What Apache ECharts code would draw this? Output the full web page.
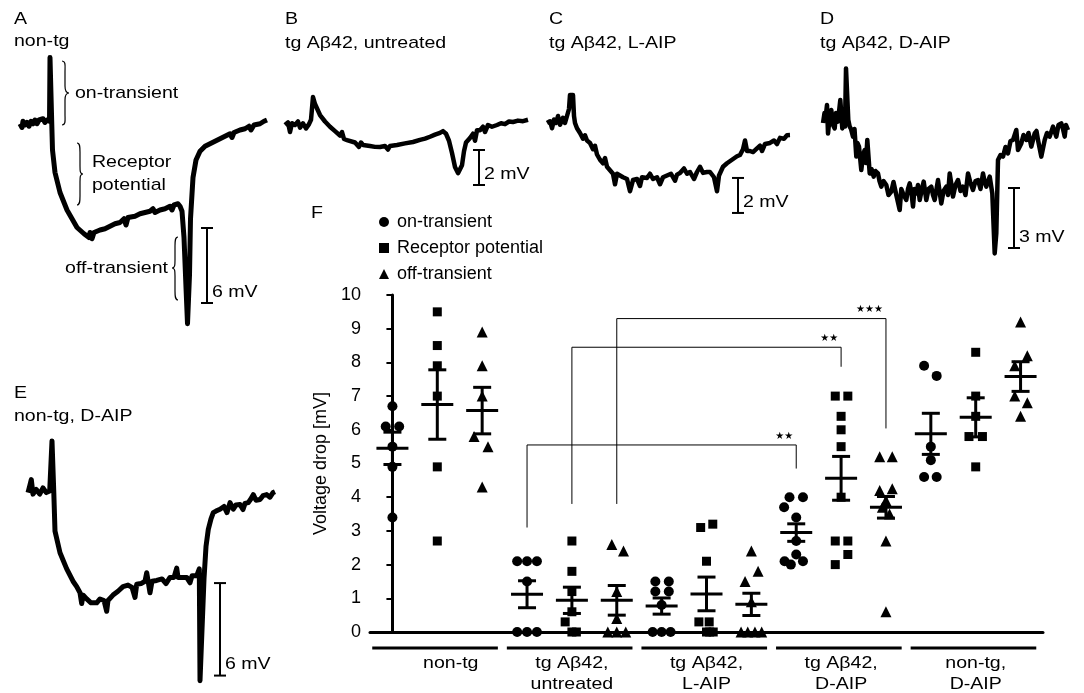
<!DOCTYPE html>
<html><head><meta charset="utf-8">
<script src="https://cdn.jsdelivr.net/npm/echarts@6/dist/echarts.min.js"></script>
<style>html,body{margin:0;padding:0;background:#fff}#c{width:1084px;height:693px}</style>
</head><body><div id="c"></div>
<script>
// ---------- DATA ----------
const groups = ['non-tg', 'tg Aβ42,\nuntreated', 'tg Aβ42,\nL-AIP', 'tg Aβ42,\nD-AIP', 'non-tg,\nD-AIP'];
const measures = ['on-transient', 'Receptor potential', 'off-transient'];
const yTicks = [0, 1, 2, 3, 4, 5, 6, 7, 8, 9, 10];

const onTransient = [
  [6.7, 6.1, 6.1, 5.5, 4.9, 3.4],
  [2.1, 2.1, 2.1, 1.5, 0, 0, 0],
  [1.5, 1.5, 1.2, 1.2, 0.8, 0, 0, 0],
  [4.0, 4.0, 3.7, 3.4, 2.7, 2.3, 2.1, 2.1, 2.0],
  [7.9, 7.6, 5.5, 5.1, 4.6, 4.6]
];
const onSpread = [
  [0, -0.15, 0.15, 0, 0, 0],
  [-0.22, 0, 0.22, 0, -0.22, 0, 0.22],
  [-0.14, 0.16, -0.14, 0.16, 0, -0.2, 0, 0.2],
  [-0.15, 0.15, -0.27, 0, 0, 0, -0.26, 0.15, -0.12],
  [-0.15, 0.13, 0, 0, -0.15, 0.13]
];
const receptor = [
  [9.5, 8.5, 7.9, 7.0, 4.9, 2.7],
  [2.7, 1.8, 1.2, 0.6, 0.3, 0, 0],
  [3.1, 3.2, 2.1, 0.3, 0.3, 0, 0, 0],
  [7.0, 7.0, 6.4, 6.0, 5.5, 4.0, 2.7, 2.7, 2.3, 2.0],
  [8.3, 7.0, 6.4, 5.8, 5.8, 4.9]
];
const recSpread = [
  [0, 0, 0, 0, 0, 0],
  [0, 0, 0, 0, -0.15, 0, 0.1],
  [-0.13, 0.14, 0, -0.17, 0.06, 0, 0.15, 0.07],
  [-0.13, 0.15, 0, 0, 0, 0, -0.13, 0.15, 0.15, -0.13],
  [0, 0, 0, -0.15, 0.15, 0]
];
const offTransient = [
  [8.9, 7.9, 7.0, 5.8, 5.5, 4.3],
  [2.6, 2.4, 1.2, 0.4, 0, 0, 0],
  [2.4, 1.8, 1.5, 0.9, 0, 0, 0, 0],
  [5.2, 5.2, 4.25, 4.2, 3.9, 3.7, 3.5, 2.7, 0.6],
  [9.2, 8.2, 7.9, 7.0, 6.8, 6.4]
];
const offSpread = [
  [0, 0, 0, -0.18, 0.13, 0],
  [-0.11, 0.15, 0, 0, -0.2, 0, 0.2],
  [0, 0.15, -0.14, 0, -0.23, -0.08, 0.08, 0.23],
  [-0.14, 0.14, 0.14, -0.14, 0, -0.08, 0.08, 0, 0],
  [0, 0.15, -0.13, -0.13, 0.15, 0]
];
const onMean  = [5.45, 1.12, 0.77, 2.95, 5.88];
const onSem   = [0.48, 0.40, 0.24, 0.26, 0.61];
const recMean = [6.75, 0.94, 1.13, 4.56, 6.37];
const recSem  = [1.03, 0.39, 0.50, 0.65, 0.58];
const offMean = [6.57, 0.94, 0.82, 3.70, 7.58];
const offSem  = [0.69, 0.44, 0.33, 0.32, 0.44];

// significance brackets: [left slot, right slot, left foot, top, right foot]
const brackets = [[3, 9, 3.1, 5.55, 4.85], [4, 10, 3.8, 8.45, 7.87], [5, 11, 3.8, 9.3, 6.04]];
const bracketStars = ['**', '**', '***'];

// recorded traces [time, mV]
const traceA = [[0,0.1],[2,-0.2],[3,0.3],[5,0],[7,0.2],[9,-0.1],[11,0.3],[13,0.1],[15,0.4],[17,0.1],[19,0.4],[21,0.3],[23,0.5],[25,0.2],[27,0.4],[29.5,0.3],[30,5.4],[31.5,5.4],[31.8,0],[32.5,-2],[35,-3.8],[40,-5.4],[47,-6.8],[57,-8.2],[64,-8.7],[69,-9.0],[70,-8.6],[72,-9.1],[74,-8.6],[80,-8.4],[85,-8.3],[90,-8.1],[95,-7.9],[100,-7.8],[104,-7.5],[106,-8.0],[108,-7.4],[115,-7.3],[120,-7.1],[125,-7.0],[130,-6.9],[133,-6.7],[135,-7.0],[140,-6.8],[145,-6.7],[150,-6.5],[152,-6.8],[154,-6.4],[158,-6.3],[160,-6.5],[162,-6.9],[164,-9],[166,-13],[167.5,-15.9],[168.5,-15.9],[169.5,-12],[170.5,-7.5],[173,-4.2],[176,-2.8],[180,-2.1],[185,-1.7],[190,-1.5],[195,-1.3],[200,-1.1],[205,-0.9],[210,-0.7],[212,-1.0],[214,-0.6],[220,-0.4],[225,-0.3],[229,-0.1],[231,-0.4],[234,0.0],[240,0.1],[244,0.3],[247,0.4]];
const traceB = [[0,0],[3,0.15],[5,-0.4],[7,0.1],[10,0],[13,0.2],[15,-0.15],[18,0.1],[21,-0.2],[24,0.05],[26,0.3],[28,1.6],[30,1.2],[35,0.57],[40,0.2],[45,-0.1],[50,-0.35],[55,-0.6],[57,-0.4],[59,-0.8],[62,-0.86],[70,-1.0],[74,-1.25],[76,-1.0],[78,-1.14],[85,-1.2],[90,-1.25],[95,-1.26],[100,-1.2],[103,-1.4],[105,-1.2],[112,-1.14],[120,-1.05],[128,-0.97],[135,-0.85],[140,-0.78],[145,-0.67],[150,-0.55],[155,-0.45],[158,-0.35],[161,-0.5],[164,-0.9],[167,-1.6],[170,-2.4],[173,-2.75],[175,-2.7],[177,-2.3],[179,-1.5],[181,-1.0],[185,-0.74],[188,-0.5],[190,-0.9],[192,-0.3],[195,-0.3],[198,-0.1],[200,-0.4],[203,0],[207,-0.1],[212,0],[216,0.1],[220,0.05],[224,0.2],[228,0.17],[233,0.25],[238,0.22],[243,0.3]];
const traceC = [[0,0],[3,0.1],[5,-0.3],[7,0.2],[9,0],[11,0.4],[13,-0.1],[16,0.3],[18,0],[20,0.1],[22,0.8],[23,1.6],[26,1.6],[27,0.4],[28,0],[30,-0.3],[33,-0.57],[36,-0.9],[38,-0.7],[40,-1.0],[43,-1.14],[46,-1.5],[48,-1.3],[50,-1.8],[53,-2.1],[56,-2.3],[58,-2.0],[60,-2.5],[63,-2.7],[66,-2.9],[68,-3.5],[70,-2.9],[73,-3.0],[76,-3.1],[80,-3.2],[83,-3.9],[86,-3.26],[90,-3.2],[93,-3.6],[95,-3.1],[100,-3.14],[103,-2.9],[106,-3.2],[110,-3.1],[113,-3.5],[116,-3.1],[120,-3.0],[124,-2.9],[128,-3.3],[130,-2.95],[133,-2.86],[137,-2.6],[140,-2.9],[143,-2.8],[147,-3.2],[150,-2.8],[153,-2.5],[156,-2.85],[160,-2.8],[163,-2.8],[167,-3.1],[170,-3.9],[172,-3.0],[176,-2.5],[180,-2.3],[185,-2.1],[190,-1.9],[193,-1.83],[196,-1.5],[198,-1.0],[200,-1.6],[203,-1.6],[206,-1.66],[210,-1.45],[213,-1.3],[215,-1.6],[218,-1.2],[223,-1.14],[227,-1.0],[230,-1.2],[233,-0.85],[237,-0.9],[240,-0.7],[243,-0.69]];
const traceD = [[0,0],[1.5,0.5],[2.7,0.32],[4,0.9],[5,-0.52],[6.5,0.2],[8.3,0.65],[10,-0.1],[11.7,-0.27],[13,0.5],[15,0.07],[17.3,1.15],[19.3,-0.27],[20.5,0.4],[22,-0.18],[23,2.73],[24.3,2.73],[25.3,0.15],[26.7,-0.18],[28,-0.3],[30,-0.68],[31.5,-0.3],[33.3,-1.68],[34.5,-1.0],[36,-1.18],[38.3,-2.35],[40,-1.6],[41.7,-1.35],[43,-2.0],[44.3,-0.85],[46.7,-2.52],[48.5,-2.3],[50.7,-2.68],[52.5,-2.4],[55,-2.52],[56.5,-2.9],[58.3,-3.18],[60.5,-2.9],[63.3,-3.1],[65.5,-3.6],[68.3,-3.43],[70.5,-2.95],[73.3,-3.6],[76.7,-4.35],[78.3,-3.3],[80,-3.52],[83.3,-3.85],[85,-3.3],[86.7,-3.02],[88.5,-3.5],[90,-4.18],[91.5,-3.3],[93.3,-3.52],[95,-3.1],[96.7,-3.85],[98.5,-3.4],[100.7,-2.93],[103.3,-3.85],[105.5,-3.3],[108.3,-3.18],[110,-3.6],[111.7,-3.85],[113.5,-3.3],[115,-2.85],[116.5,-3.4],[118.3,-4.02],[120.5,-3.4],[123.3,-3.18],[125,-3.6],[126.7,-2.52],[128.5,-3.1],[130,-3.68],[132.5,-3.1],[135,-2.85],[137.5,-3.4],[140,-3.18],[142.5,-3.6],[145,-2.52],[147.5,-3.0],[150,-3.35],[152.5,-2.9],[155,-2.85],[157.5,-3.3],[160,-2.52],[161.5,-2.9],[163.3,-3.18],[166.7,-2.68],[169.3,-3.52],[171.7,-6.52],[173.3,-5.52],[175,-1.85],[177.5,-1.6],[180,-1.68],[182.5,-1.2],[185,-1.52],[187.5,-0.9],[190,-0.85],[193.3,-0.35],[195,-1.35],[198.3,-1.02],[200.5,-0.6],[203.3,-0.85],[205.5,-0.5],[208.3,-1.18],[211.7,-0.52],[213.5,-0.4],[215,-0.85],[218.3,-1.68],[221.7,-0.85],[224,-0.5],[226.7,-0.68],[230,-0.18],[233.3,-0.68],[235.5,-0.1],[238.3,-0.02],[240,-0.3],[241.7,-0.68],[243,-0.1],[245,-0.35]];
const traceE = [[0,0],[2,0.5],[3.3,0.84],[5,-0.1],[8.3,0.2],[11.7,-0.1],[15,0.3],[18.3,0],[21.7,0.1],[23.5,0.1],[24,3.35],[25.5,3.35],[25.8,0],[27,-2.5],[32,-3.9],[38.7,-4.95],[45,-5.75],[48.7,-6.1],[52,-6.5],[53.7,-7.2],[55,-6.65],[58.7,-6.9],[63,-7.15],[68.7,-7.15],[72,-6.9],[76,-7.0],[78.7,-7.7],[80,-7.0],[85,-6.65],[90,-6.4],[95,-6.1],[100,-6.0],[104,-6.15],[107,-6.8],[108.7,-5.95],[113,-5.9],[117,-5.75],[118.7,-5.2],[120,-5.7],[122,-6.5],[124,-5.75],[128.7,-5.7],[134,-5.6],[138,-5.9],[142,-5.5],[146,-5.5],[148.7,-4.9],[150,-5.5],[155,-5.5],[158.7,-5.5],[162,-5.85],[164,-5.4],[168.7,-5.4],[171.3,-4.95],[172,-12.2],[173.7,-12.2],[176,-5.6],[178,-3.5],[180.3,-2.39],[183,-1.7],[185.3,-1.3],[188,-1.2],[192,-1.08],[196,-0.9],[199,-1.3],[202,-0.65],[205.3,-1.08],[208,-0.8],[212,-0.77],[215,-1.1],[217,-0.7],[220.3,-0.65],[223,-0.4],[225.3,-0.13],[228,-0.5],[232,-0.45],[235,-0.2],[238.7,-0.13],[242,-0.3],[245,0.0],[247,0.06]];
const scaleBarMv = [6, 2, 2, 3, 6];
const panelLetters = ['A', 'B', 'C', 'D', 'E', 'F'];
const panelTitles = ['non-tg', 'tg Aβ42, untreated', 'tg Aβ42, L-AIP', 'tg Aβ42, D-AIP', 'non-tg, D-AIP'];

// ---------- CHART ----------
const FONT = '"Liberation Sans", Arial, Helvetica, sans-serif';
const f17 = '17px ' + FONT;
const SX = 1.15;
const chart = echarts.init(document.getElementById('c'), null, {renderer: 'canvas'});

function pts(values, spreads, m) {
  const out = [];
  values.forEach((arr, g) => arr.forEach((v, i) => out.push([g * 3 + m + spreads[g][i], v])));
  return out;
}
const errData = [];
[[onMean, onSem], [recMean, recSem], [offMean, offSem]].forEach((ms, m) => {
  ms[0].forEach((mean, g) => errData.push([g * 3 + m, mean, ms[1][g]]));
});

const traceLayout = [
  {left: 20,  top: 50,    width: 250, height: 287.5, min: -17, max: 6,  bar: [187, -8.24], lw: 5},
  {left: 285, top: 90,    width: 245, height: 105,   min: -4,  max: 2,  bar: [194, -1.43], lw: 4.5},
  {left: 547, top: 88,    width: 245, height: 131.25,min: -5.5,max: 2,  bar: [191, -3.14], lw: 4.5},
  {left: 823, top: 63,    width: 250, height: 200,   min: -7,  max: 3,  bar: [191, -3.25], lw: 4.5},
  {left: 28,  top: 415.5, width: 250, height: 279,   min: -13, max: 5,  bar: [192, -5.87], lw: 5}
];
const traces = [traceA, traceB, traceC, traceD, traceE];

const grids = [{left: 370, top: 295, width: 673, height: 337}];
const xAxes = [{gridIndex: 0, type: 'value', min: -0.5, max: 14.5, axisLine: {onZero: true, lineStyle: {color: '#000', width: 3}}, axisTick: {show: false}, axisLabel: {show: false}, splitLine: {show: false}}];
const yAxes = [{gridIndex: 0, type: 'value', min: yTicks[0], max: yTicks[yTicks.length - 1], interval: 1,
  axisLine: {show: true, lineStyle: {color: '#000', width: 3}},
  axisTick: {show: true, length: 6, lineStyle: {color: '#000', width: 2}},
  axisLabel: {color: '#000', fontSize: 18, fontFamily: FONT, margin: 9},
  splitLine: {show: false},
  name: 'Voltage drop [mV]', nameLocation: 'middle', nameGap: 39,
  nameTextStyle: {color: '#000', fontSize: 18, fontFamily: FONT}}];
const series = [];

traceLayout.forEach((L, i) => {
  const gi = i + 1;
  grids.push({left: L.left, top: L.top, width: L.width, height: L.height});
  xAxes.push({gridIndex: gi, type: 'value', min: 0, max: L.width, show: false});
  yAxes.push({gridIndex: gi, type: 'value', min: L.min, max: L.max, show: false});
  series.push({type: 'line', xAxisIndex: gi, yAxisIndex: gi, data: traces[i], showSymbol: false, symbol: 'none',
    clip: false, lineStyle: {color: '#000', width: L.lw, join: 'round'}, silent: true});
  series.push({type: 'custom', xAxisIndex: gi, yAxisIndex: gi, clip: false, silent: true,
    data: [[L.bar[0], L.bar[1], scaleBarMv[i]]],
    renderItem: (p, api) => {
      const t = api.value(0), v = api.value(1), s = api.value(2);
      const a = api.coord([t, v]), b = api.coord([t, v - s]);
      const st = {stroke: '#000', lineWidth: 2};
      return {type: 'group', children: [
        {type: 'line', shape: {x1: a[0], y1: a[1], x2: b[0], y2: b[1]}, style: st},
        {type: 'line', shape: {x1: a[0] - 6, y1: a[1], x2: a[0] + 6, y2: a[1]}, style: st},
        {type: 'line', shape: {x1: b[0] - 6, y1: b[1], x2: b[0] + 6, y2: b[1]}, style: st},
        {type: 'text', x: b[0] + 5, y: b[1] - 11, scaleX: SX, style: {text: s + ' mV', font: f17, fill: '#000', align: 'left', verticalAlign: 'middle'}}
      ]};
    }});
});

// braces annotating panel A (pixel paths)
const braces = [
  'M62,61 C66,61 65,66 65,72 L65,86 C65,91 66,93 69,93 C66,93 65,95 65,100 L65,114 C65,120 66,125 62,125',
  'M77,143 C80,143 80,147 80,152 L80,166 C80,171 80,174 83,174 C80,174 80,177 80,182 L80,196 C80,201 80,205 77,205',
  'M178,237 C175,237 175,241 175,246 L175,260 C175,265 175,268 172,268 C175,268 175,271 175,276 L175,291 C175,296 175,300 178,300'
];
series.push({type: 'custom', xAxisIndex: 1, yAxisIndex: 1, clip: false, silent: true, data: [[0, 0]],
  renderItem: () => ({type: 'group', children: braces.map(d => ({type: 'path', shape: {pathData: d}, style: {stroke: '#000', fill: null, lineWidth: 1.2}}))})});

const symbols = ['circle', 'rect', 'triangle'];
const sizes = [10, 9, 11];
[[onTransient, onSpread], [receptor, recSpread], [offTransient, offSpread]].forEach((d, m) => {
  series.push({name: measures[m], type: 'scatter', xAxisIndex: 0, yAxisIndex: 0, symbol: symbols[m], symbolSize: sizes[m],
    itemStyle: {color: '#000', opacity: 1}, data: pts(d[0], d[1], m), clip: false, z: 3});
});

series.push({type: 'custom', xAxisIndex: 0, yAxisIndex: 0, clip: false, silent: true, z: 4, data: errData,
  encode: {x: 0, y: 1},
  renderItem: (p, api) => {
    const x = api.value(0), m = api.value(1), s = api.value(2);
    const c = api.coord([x, m]), t = api.coord([x, m + s]), b = api.coord([x, m - s]);
    const st = {stroke: '#000', lineWidth: 3};
    return {type: 'group', children: [
      {type: 'line', shape: {x1: c[0], y1: t[1], x2: c[0], y2: b[1]}, style: st},
      {type: 'line', shape: {x1: c[0] - 16, y1: c[1], x2: c[0] + 16, y2: c[1]}, style: st},
      {type: 'line', shape: {x1: c[0] - 9, y1: t[1], x2: c[0] + 9, y2: t[1]}, style: st},
      {type: 'line', shape: {x1: c[0] - 9, y1: b[1], x2: c[0] + 9, y2: b[1]}, style: st}
    ]};
  }});

series.push({type: 'custom', xAxisIndex: 0, yAxisIndex: 0, clip: false, silent: true, data: brackets,
  encode: {x: [0, 1], y: [2, 3, 4]},
  renderItem: (p, api) => {
    const xl = api.value(0), xr = api.value(1), yl = api.value(2), yt = api.value(3), yr = api.value(4);
    const p1 = api.coord([xl, yl]), p2 = api.coord([xl, yt]), p3 = api.coord([xr, yt]), p4 = api.coord([xr, yr]);
    return {type: 'group', children: [
      {type: 'polyline', shape: {points: [p1, p2, p3, p4]}, style: {stroke: '#000', lineWidth: 1, fill: null}},
      {type: 'text', x: p3[0] - 3, y: p3[1] - 9, style: {text: bracketStars[p.dataIndex].replace(/\*/g, '★'), font: '10px "DejaVu Sans", sans-serif', fill: '#000', align: 'right', verticalAlign: 'middle'}}
    ]};
  }});

series.push({type: 'custom', xAxisIndex: 0, yAxisIndex: 0, clip: false, silent: true,
  data: groups.map((g, i) => [i * 3 + 1, 0]), encode: {x: 0, y: 1},
  renderItem: (p, api) => {
    const gx = api.value(0);
    const a = api.coord([gx - 1.45, -0.475]), b = api.coord([gx + 1.35, -0.475]);
    const c = api.coord([gx + (p.dataIndex === 0 ? 0.3 : 0), -0.475]);
    return {type: 'group', children: [
      {type: 'line', shape: {x1: a[0], y1: a[1], x2: b[0], y2: b[1]}, style: {stroke: '#000', lineWidth: 3}},
      {type: 'text', x: c[0], y: c[1] + 5, scaleX: SX, style: {text: groups[p.dataIndex], font: f17, fill: '#000', align: 'center', verticalAlign: 'top', lineHeight: 21}}
    ]};
  }});

const labelPos = [[14, 19, 14, 41], [285, 19, 285, 43], [549, 19, 549, 43], [820, 19, 820, 43], [14, 393, 14, 416]];
const graphic = [];
labelPos.forEach((lp, i) => {
  graphic.push({type: 'text', x: lp[0], y: lp[1], scaleX: SX, style: {text: panelLetters[i], font: f17, fill: '#000', verticalAlign: 'middle'}});
  graphic.push({type: 'text', x: lp[2], y: lp[3], scaleX: SX, style: {text: panelTitles[i], font: f17, fill: '#000', verticalAlign: 'middle'}});
});
graphic.push({type: 'text', x: 311, y: 213, scaleX: SX, style: {text: panelLetters[5], font: f17, fill: '#000', verticalAlign: 'middle'}});
const ann = [['on-transient', 75, 93, 'left'], ['Receptor', 92, 162, 'left'], ['potential', 92, 185, 'left'], ['off-transient', 168, 268, 'right']];
ann.forEach(a => graphic.push({type: 'text', x: a[1], y: a[2], scaleX: SX, style: {text: a[0], font: f17, fill: '#000', align: a[3], verticalAlign: 'middle'}}));

chart.setOption({
  animation: false,
  backgroundColor: '#fff',
  grid: grids, xAxis: xAxes, yAxis: yAxes,
  legend: {data: measures, orient: 'vertical', left: 374, top: 208, itemWidth: 10, itemHeight: 10, itemGap: 8,
    textStyle: {color: '#000', fontSize: 18, fontFamily: FONT, padding: [0, 0, 0, 3]}, selectedMode: false},
  series: series,
  graphic: graphic
});
</script></body></html>
